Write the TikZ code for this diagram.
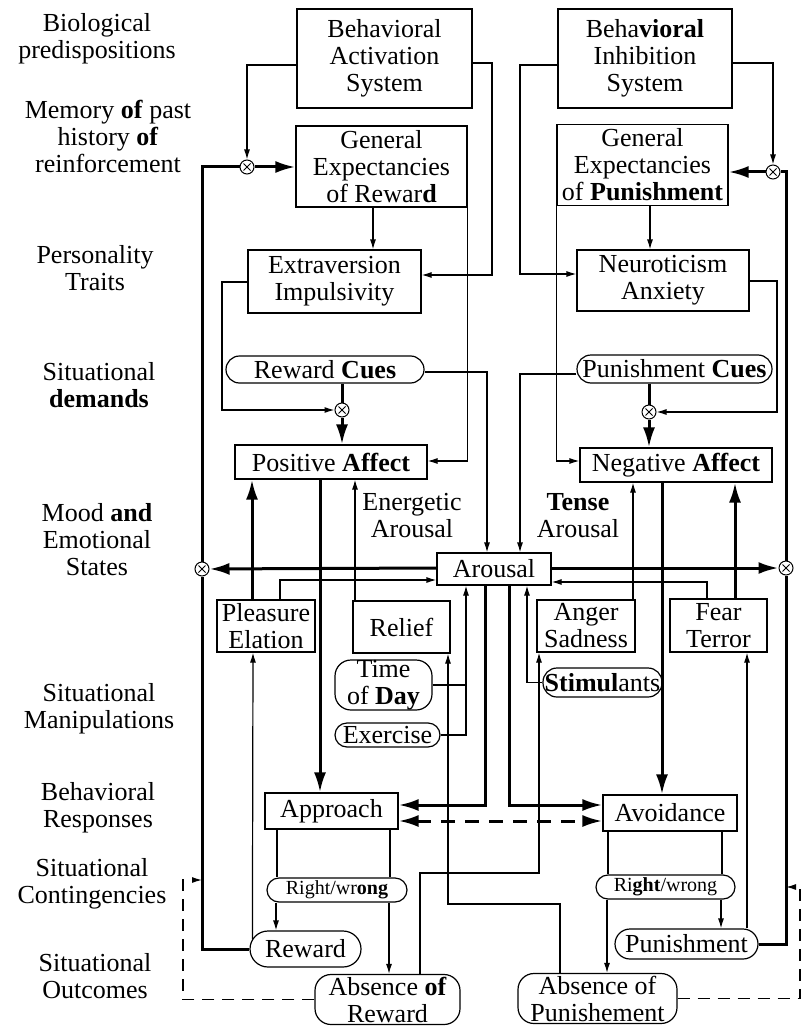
\documentclass[tikz,border=0pt]{standalone}
\usepackage{fontspec}
\setmainfont{Liberation Serif}
\usetikzlibrary{arrows.meta,calc}

\begin{document}
\begin{tikzpicture}[x=1pt, y=-1pt,
    lbl/.style={align=center, inner sep=0pt, font=\fontsize{26}{27}\selectfont},
    box/.style={lbl, draw, line width=1.2pt},
    pill/.style={box, rounded corners=#1},
    small/.style={pill=12, font=\fontsize{20}{21}\selectfont},
    mult/.style={circle, draw, line width=1pt, fill=white, minimum size=14pt, inner sep=0pt,
      path picture={\draw[line width=0.8pt] (path picture bounding box.center) ++(-3.5,-3.5) -- ++(7,7)
        (path picture bounding box.center) ++(-3.5,3.5) -- ++(7,-7);}},
    ln/.style={line width=1.2pt},
    arr/.style={ln, -{Latex[length=10pt, width=6pt]}},
    fat/.style={line width=3pt},
    farr/.style={fat, -{Latex[length=20pt, width=12pt]}},
    dfarr/.style={fat, {Latex[length=20pt, width=12pt]}-{Latex[length=20pt, width=12pt]}, dash pattern=on 14pt off 10pt},
    darr/.style={arr, dash pattern=on 12pt off 8pt}]

  \useasboundingbox (0,0) rectangle (802,1027);

  \node[lbl] (bio)  at (97,39)   {Biological\\predispositions};
  \node[lbl] (mem)  at (108,136) {Memory \textbf{of} past\\history \textbf{of}\\reinforcement};
  \node[lbl] (pers) at (95,268)  {Personality\\Traits};
  \node[lbl] (dem)  at (99,385)  {Situational\\\textbf{demands}};
  \node[lbl] (mood) at (97,540)  {Mood \textbf{and}\\Emotional\\States};
  \node[lbl] (man)  at (99,709)  {Situational\\Manipulations};
  \node[lbl] (resp) at (98,808)  {Behavioral\\Responses};
  \node[lbl] (cont) at (92,884)  {Situational\\Contingencies};
  \node[lbl] (outc) at (95,976)  {Situational\\Outcomes};

  \node[box, minimum width=175, minimum height=99] (bas) at (384.5,58.5) {Behavioral\\Activation\\System};
  \node[box, minimum width=174, minimum height=99] (bis) at (645,58.5) {Beha\textbf{vioral}\\Inhibition\\System};
  \node[box, minimum width=171, minimum height=81] (ger) at (381.5,166.5) {General\\Expectancies\\of Rewar\textbf{d}};
  \node[box, minimum width=171, minimum height=81] (gep) at (642.5,165) {General\\Expectancies\\of \textbf{Punishment}};
  \node[box, minimum width=173, minimum height=63] (extra) at (334.5,281.5) {Extraversion\\Impulsivity};
  \node[box, minimum width=172, minimum height=61] (neuro) at (663,280.5) {Neuroticism\\Anxiety};
  \node[pill=13.5, minimum width=198, minimum height=27] (rcues) at (325,369.5) {Reward \textbf{Cues}};
  \node[pill=14, minimum width=195, minimum height=28] (pcues) at (674.5,369) {Punishment \textbf{Cues}};
  \node[box, minimum width=192, minimum height=34] (pa) at (331,462) {Positive \textbf{Affect}};
  \node[box, minimum width=192, minimum height=34] (na) at (676,465) {Negative \textbf{Affect}};
  \node[box, minimum width=114, minimum height=32] (arousal) at (494,569) {Arousal};
  \node[box, minimum width=98, minimum height=52] (pleas) at (266,626) {Pleasure\\Elation};
  \node[box, minimum width=97, minimum height=52] (relief) at (401.5,627) {Relief};
  \node[box, minimum width=98, minimum height=52] (anger) at (586,626) {Anger\\Sadness};
  \node[box, minimum width=97, minimum height=53] (fear) at (718.5,625.5) {Fear\\Terror};
  \node[pill=16, minimum width=97, minimum height=50] (tod) at (383.5,685) {Time\\of \textbf{Day}};
  \node[pill=12, minimum width=105, minimum height=24] (exer) at (387.5,735) {Exercise};
  \node[pill=14, minimum width=119, minimum height=29] (stim) at (602.5,682.5) {\textbf{Stimul}ants};
  \node[box, minimum width=133, minimum height=36] (appr) at (331.5,811) {Approach};
  \node[box, minimum width=134, minimum height=36] (avoid) at (670,813) {Avoidance};
  \node[small, minimum width=140, minimum height=24] (rwl) at (337,890) {Right/wr\textbf{ong}};
  \node[small, minimum width=139, minimum height=24] (rwr) at (665.5,887) {Ri\textbf{ght}/wrong};
  \node[pill=18, minimum width=111, minimum height=36] (reward) at (305.5,949) {Reward};
  \node[pill=15, minimum width=143, minimum height=30] (punish) at (686.5,944) {Punishment};
  \node[pill=16, minimum width=145, minimum height=50] (absr) at (387.5,999.5) {Absence \textbf{of}\\Reward};
  \node[pill=16, minimum width=159, minimum height=50] (absp) at (597.5,998.5) {Absence of\\Punishement};

  \node[lbl] (ener)  at (412,516) {Energetic\\Arousal};
  \node[lbl] (tense) at (578,516) {\textbf{Tense}\\Arousal};

  \node[mult] (mga)    at (247,167) {};
  \node[mult] (mgp)    at (773,172) {};
  \node[mult] (mpa)    at (342,410) {};
  \node[mult] (mna)    at (649,412) {};
  \node[mult] (mleft)  at (202,569) {};
  \node[mult] (mright) at (786,568) {};

  \coordinate (lhook) at (202,880);
  \coordinate (rhook) at (786,887);

  \draw[arr] (bas.west |- 0,65) -| (mga);
  \draw[arr] (bas.east |- 0,63) -| (492,275) -- (extra.east |- 0,275);
  \draw[farr] (mga) -- (mga -| ger.west);
  \draw[arr] (ger.south -| 373,0) -- (extra.north -| 373,0);
  \draw[arr] (ger.south east) |- (pa.east |- 0,461);
  \draw[arr] (extra.west |- 0,282) -| (222,410) -- (mpa);
  \draw[fat] (rcues.south -| mpa) -- (mpa);
  \draw[farr] (mpa) -- (mpa |- pa.north);
  \draw[arr] (rcues.east |- 0,372) -| (arousal.north -| 487,0);

  \draw[arr] (bis.west |- 0,65) -| (520,274) -- (neuro.west |- 0,274);
  \draw[arr] (bis.east |- 0,63) -| (mgp);
  \draw[farr] (mgp) -- (mgp -| gep.east);
  \draw[arr] (gep.south -| 650,0) -- (neuro.north -| 650,0);
  \draw[arr] (gep.south west) |- (na.west |- 0,461);
  \draw[arr] (neuro.east |- 0,281) -| (777,412) -- (mna);
  \draw[fat] (pcues.south -| mna) -- (mna);
  \draw[farr] (mna) -- (mna |- na.north);
  \draw[arr] (pcues.west |- 0,374) -| (arousal.north -| 520,0);

  \draw[fat] (reward.west) -| (mleft);
  \draw[fat] (mleft) |- (mga);
  \draw[fat] (punish.east) -| (mright);
  \draw[fat] (mright) |- (mgp);

  \draw[farr] (pa.south -| 320,0) -- (appr.north -| 320,0);
  \draw[farr] (pleas.north -| 252,0) -- (pa.south -| 252,0);
  \draw[arr] (relief.north -| 355,0) -- (pa.south -| 355,0);
  \draw[farr] (na.south -| 662,0) -- (avoid.north -| 662,0);
  \draw[arr] (anger.north -| 633,0) -- (na.south -| 633,0);
  \draw[farr] (fear.north -| 735,0) -- (na.south -| 735,0);

  \draw[farr] (arousal.west |- 0,568) -- (mleft);
  \draw[farr] (arousal.east |- 0,568) -- (mright);
  \draw[arr] (pleas.north -| 280,0) |- (arousal.west |- 0,580);
  \draw[arr] (fear.north -| 707,0) |- (arousal.east |- 0,582);
  \draw[ln] (tod.east) -- (tod.east -| 466,0);
  \draw[arr] (exer.east) -| (arousal.south -| 466,0);
  \draw[arr] (stim.west) -| (arousal.south -| 527,0);
  \draw[farr] (arousal.south -| 485,0) |- (appr.east |- 0,805);
  \draw[farr] (arousal.south -| 509,0) |- (avoid.west |- 0,805);
  \draw[dfarr] (appr.east |- 0,821) -- (avoid.west |- 0,821);

  \draw[ln] (appr.south -| 277,0) -- (rwl.north -| 277,0);
  \draw[ln] (appr.south -| 390,0) -- (rwl.north -| 390,0);
  \draw[arr] (rwl.south -| 276,0) -- (reward.north -| 276,0);
  \draw[arr] (rwl.south -| 389,0) -- (absr.north -| 389,0);
  \draw[ln] (avoid.south -| 608,0) -- (rwr.north -| 608,0);
  \draw[ln] (avoid.south -| 722,0) -- (rwr.north -| 722,0);
  \draw[arr] (rwr.south -| 721,0) -- (punish.north -| 721,0);
  \draw[arr] (rwr.south -| 607,0) -- (absp.north -| 607,0);

  \draw[arr] ($(reward.west)+(3,-10)$) -- (pleas.south -| 253,0);
  \draw[arr] (punish.north -| 747,0) -- (fear.south -| 747,0);
  \draw[arr] (absr.north -| 420,0) |- (539,873) -- (anger.south -| 539,0);
  \draw[arr] (absp.north -| 560,0) |- (448,904) -- (relief.south -| 448,0);

  \draw[darr] (absr.west) -| (183,880) -- (lhook);
  \draw[darr] (absp.east) -| (800,887) -- (rhook);
\end{tikzpicture}
\end{document}
